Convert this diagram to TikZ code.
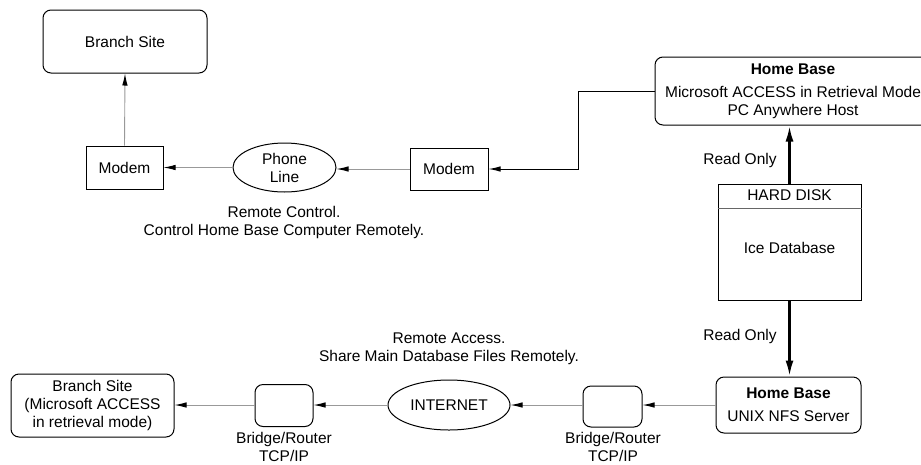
\documentclass[tikz,border=0pt]{standalone}
\usepackage{fontspec}
\setmainfont{Liberation Sans}
\usetikzlibrary{shapes.geometric,arrows.meta}
\begin{document}
\begin{tikzpicture}[x=1pt,y=-1pt,
  every node/.style={font=\fontsize{15.5}{18}\selectfont, inner sep=0pt, align=center},
  box/.style={draw, line width=1pt},
  rbox/.style={draw, line width=1pt, rounded corners=8pt},
  oval/.style={draw, ellipse, line width=1pt},
  glink/.style={draw=black!40, line width=0.9pt, -{Latex[length=12pt,width=5.5pt,black]}},
  blink/.style={draw=black, line width=1pt, -{Latex[length=12pt,width=5.5pt]}},
  thick link/.style={draw=black, line width=2.6pt, -{Latex[length=16pt,width=8pt]}}
]
\useasboundingbox (0,0) rectangle (921,464);
\clip (0,0) rectangle (921,464);
\fill[white] (0,0) rectangle (921,464);

% top row
\node[rbox, minimum width=164pt, minimum height=63pt] (bs1) at (125,41.5) {Branch Site};
\node[box, minimum width=77pt, minimum height=43pt] (m1) at (124.5,167.5) {Modem};
\node[oval, minimum width=103pt, minimum height=49pt] (pl) at (284.5,167.5) {Phone\\Line};
\node[box, minimum width=78pt, minimum height=42pt] (m2) at (449,169) {Modem};
\node[rbox, minimum width=276pt, minimum height=68pt] (hb1) at (793,91) {};
\node (hb1t) at (793,69) {\bfseries Home Base};
\node (hb1b) at (793,102) {Microsoft ACCESS in Retrieval Mode\\PC Anywhere Host};
\node (rc) at (284,222) {Remote Control.\\Control Home Base Computer Remotely.};

% hard disk
\node[box, minimum width=143pt, minimum height=116pt] (hd) at (789.5,242) {};
\draw[line width=1pt, black!60] (hd.west |- 0,208) -- (hd.east |- 0,208);
\node (hdt) at (789.5,195) {HARD DISK};
\node (hdb) at (789.5,248) {Ice Database};
\node (ro1) at (740,160) {Read Only};
\node (ro2) at (740,336) {Read Only};

% bottom row
\node[rbox, minimum width=145pt, minimum height=56pt] (hb2) at (788.5,405) {};
\node (hb2t) at (788.5,393) {\bfseries Home Base};
\node (hb2b) at (788.5,416) {UNIX NFS Server};
\node[rbox, minimum width=59pt, minimum height=41pt] (br2) at (612.5,406.5) {};
\node (br2l) at (613,447) {Bridge/Router\\TCP/IP};
\node[oval, minimum width=122pt, minimum height=50pt] (inet) at (449,405) {INTERNET};
\node[rbox, minimum width=58pt, minimum height=42pt] (br1) at (284,405.5) {};
\node (br1l) at (284,447) {Bridge/Router\\TCP/IP};
\node[rbox, minimum width=163pt, minimum height=63pt] (bs2) at (92.5,405.5) {Branch Site\\(Microsoft ACCESS\\in retrieval mode)};
\node (ra) at (449,349) {Remote Access.\\Share Main Database Files Remotely.};

% connectors
\draw[glink] (m1.north) -- (bs1.south);
\draw[glink] (pl.west) -- (m1.east);
\draw[glink] (m2.west) -- (pl.east |- m2.west);
\draw[blink] (hb1.west) -- ++(-76,0) |- (m2.east);
\draw[thick link] (hd.north) -- (hd.north |- hb1.south);
\draw[thick link] (hd.south) -- (hd.south |- hb2.north);
\draw[glink] (hb2.west) -- (br2.east |- hb2.west);
\draw[glink] (br2.west |- hb2.west) -- (inet.east |- hb2.west);
\draw[glink] (inet.west) -- (br1.east |- inet.west);
\draw[glink] (br1.west |- inet.west) -- (bs2.east |- inet.west);
\end{tikzpicture}
\end{document}
